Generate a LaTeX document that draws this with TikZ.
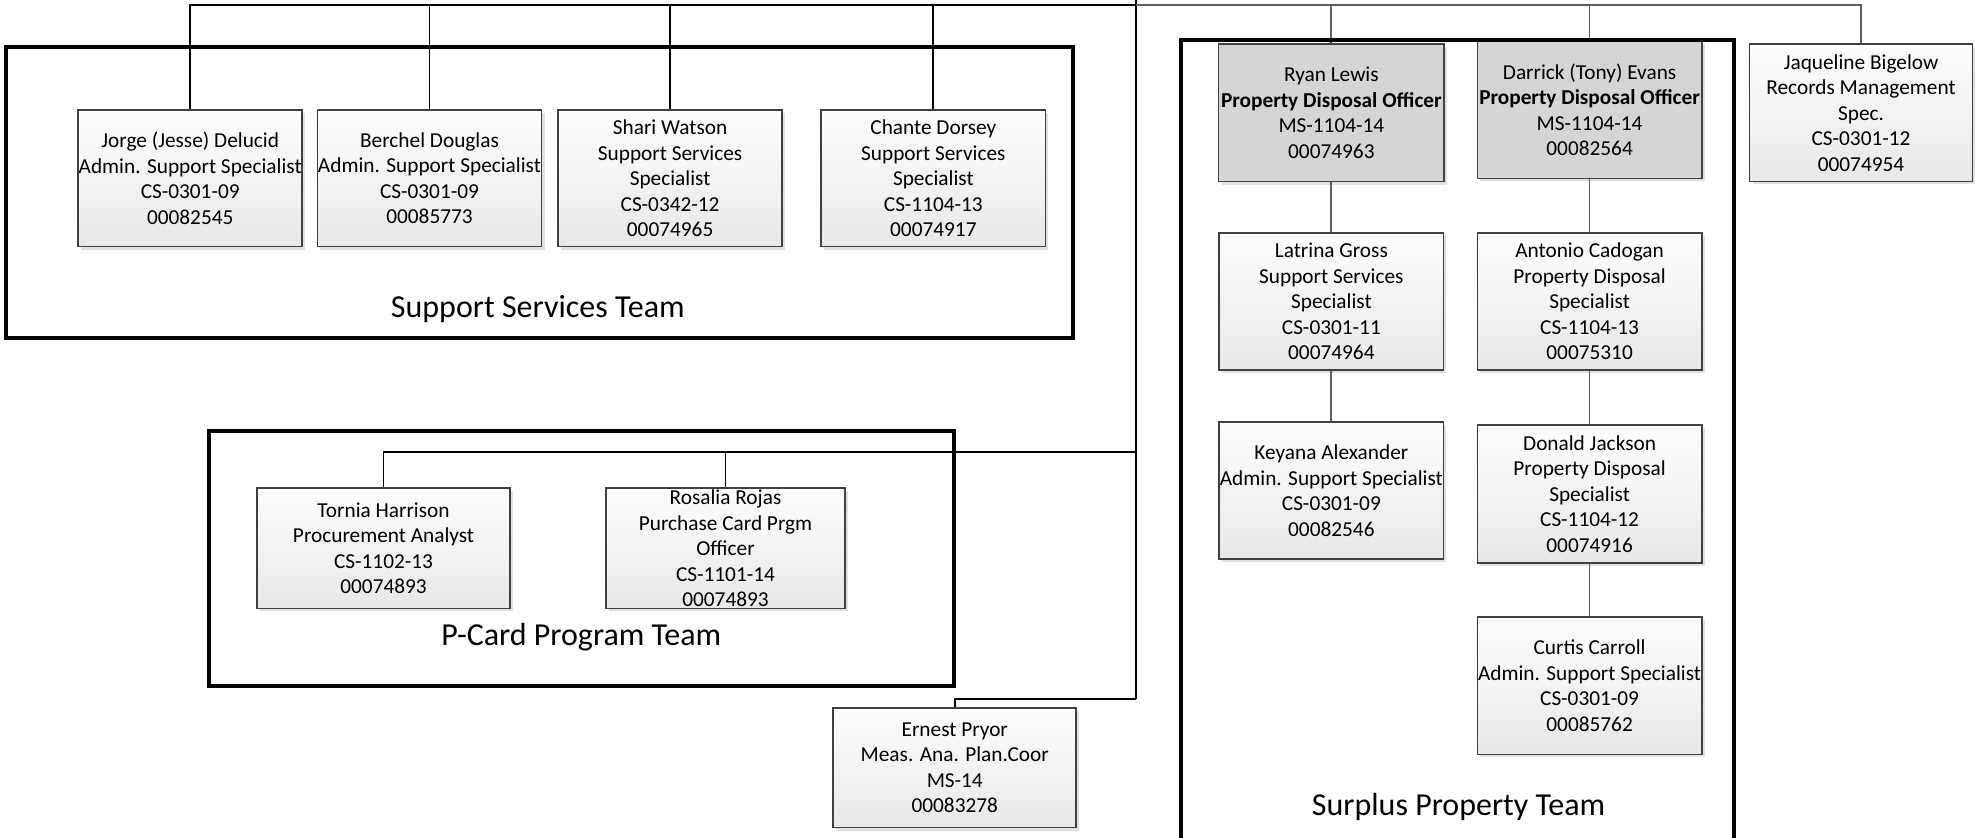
\documentclass[tikz,border=0pt]{standalone}
\usepackage{fontspec}
\setmainfont{Carlito}
\usetikzlibrary{shadows}

\definecolor{boxline}{HTML}{404040}
\definecolor{boxtop}{HTML}{FDFDFD}
\definecolor{boxbot}{HTML}{E8E8E8}
\definecolor{headfill}{HTML}{D5D5D5}
\definecolor{linkgray}{HTML}{5E5E5E}

\tikzset{
  pbox/.style={draw=boxline, line width=1.7pt, top color=boxtop, bottom color=boxbot,
    inner sep=0pt, drop shadow={shadow xshift=3pt, shadow yshift=-3pt, fill=black, opacity=0.12}},
  headbox/.style={pbox, top color=headfill, bottom color=headfill},
  ptext/.style={align=center, inner sep=0pt, font=\fontsize{21.3}{25.5}\selectfont},
  teamframe/.style={draw=black, line width=4pt},
  teamlabel/.style={font=\fontsize{32}{38}\selectfont, inner sep=0pt},
  link/.style={draw=black, line width=1.8pt},
  rlink/.style={draw=linkgray, line width=1.8pt},
}

% \person[style]{name}{cx}{cy}{width}{height}{text}
\newcommand\person[7][pbox]{%
  \node[#1, minimum width=#5*1.2596pt, minimum height=#6*1.2596pt] (#2) at (#3,#4) {};
  \node[ptext] (#2-t) at (#2.center) {#7};
}

\begin{document}
\begin{tikzpicture}[x=1.2596pt, y=-1.2596pt]
  \useasboundingbox (0,0) rectangle (1568,665);
  \clip (0,0) rectangle (1568,665);

  % Support Services Team
  \person{jorge}{151}{141.5}{178}{108.5}{Jorge (Jesse) Delucid\\Admin. Support Specialist\\CS-0301-09\\00082545}
  \person{berchel}{341}{141.5}{178}{108.5}{Berchel Douglas\\Admin. Support Specialist\\CS-0301-09\\00085773}
  \person{shari}{532}{141.5}{178}{108.5}{Shari Watson\\Support Services\\Specialist\\CS-0342-12\\00074965}
  \person{chante}{741}{141.5}{178}{108.5}{Chante Dorsey\\Support Services\\Specialist\\CS-1104-13\\00074917}

  % P-Card Program Team
  \person{tornia}{304.5}{435.3}{201}{95.5}{Tornia Harrison\\Procurement Analyst\\CS-1102-13\\00074893}
  \person{rosalia}{576}{435.3}{190}{95.5}{Rosalia Rojas\\Purchase Card Prgm\\Officer\\CS-1101-14\\00074893}

  % Stand-alone positions
  \person{ernest}{758}{609.5}{193}{95}{Ernest Pryor\\Meas. Ana. Plan.Coor\\MS-14\\00083278}
  \person{jaqueline}{1477.5}{89.5}{177}{109}{Jaqueline Bigelow\\Records Management\\Spec.\\CS-0301-12\\00074954}

  % Surplus Property Team
  \person[headbox]{ryan}{1057}{89.6}{179}{109}{Ryan Lewis\\\textbf{Property Disposal Officer}\\MS-1104-14\\00074963}
  \person[headbox]{darrick}{1262}{87.2}{178}{109}{Darrick (Tony) Evans\\\textbf{Property Disposal Officer}\\MS-1104-14\\00082564}
  \person{latrina}{1057}{239.5}{178}{109}{Latrina Gross\\Support Services\\Specialist\\CS-0301-11\\00074964}
  \person{antonio}{1262}{239.5}{178}{109}{Antonio Cadogan\\Property Disposal\\Specialist\\CS-1104-13\\00075310}
  \person{keyana}{1057}{389.5}{178}{109}{Keyana Alexander\\Admin. Support Specialist\\CS-0301-09\\00082546}
  \person{donald}{1262}{392}{178}{109.5}{Donald Jackson\\Property Disposal\\Specialist\\CS-1104-12\\00074916}
  \person{curtis}{1262}{544.5}{178}{109}{Curtis Carroll\\Admin. Support Specialist\\CS-0301-09\\00085762}

  % trunk and branch points
  \coordinate (root) at (902,0);
  \coordinate (hub) at (902,4);
  \coordinate (pbar) at (902,359);
  \coordinate (ebar) at (902,555);

  \draw[link] (root) -- (ebar);
  \draw[link] (hub) -| (jorge.north);
  \draw[link] (berchel.north) -- (berchel.north |- hub);
  \draw[link] (shari.north) -- (shari.north |- hub);
  \draw[link] (chante.north) -- (chante.north |- hub);

  \draw[rlink] (hub) -| (jaqueline.north);
  \draw[rlink] (ryan.north) -- (ryan.north |- hub);
  \draw[rlink] (darrick.north) -- (darrick.north |- hub);

  \draw[link] (pbar) -| (tornia.north);
  \draw[link] (rosalia.north) -- (rosalia.north |- pbar);
  \draw[link] (ebar) -| (ernest.north);

  \draw[rlink] (ryan.south) -- (latrina.north);
  \draw[rlink] (latrina.south) -- (keyana.north);
  \draw[rlink] (darrick.south) -- (antonio.north);
  \draw[rlink] (antonio.south) -- (donald.north);
  \draw[rlink] (donald.south) -- (curtis.north);

  % team frames and their titles
  \draw[teamframe] (5,37) rectangle (851.5,268.5);
  \node[teamlabel] (supportlbl) at (427,245) {Support Services Team};

  \draw[teamframe] (166,342) rectangle (757,545);
  \node[teamlabel] (pcardlbl) at (461.5,506) {P-Card Program Team};

  \draw[teamframe] (938,32) rectangle (1377,720);
  \node[teamlabel] (surpluslbl) at (1158,641) {Surplus Property Team};
\end{tikzpicture}
\end{document}
